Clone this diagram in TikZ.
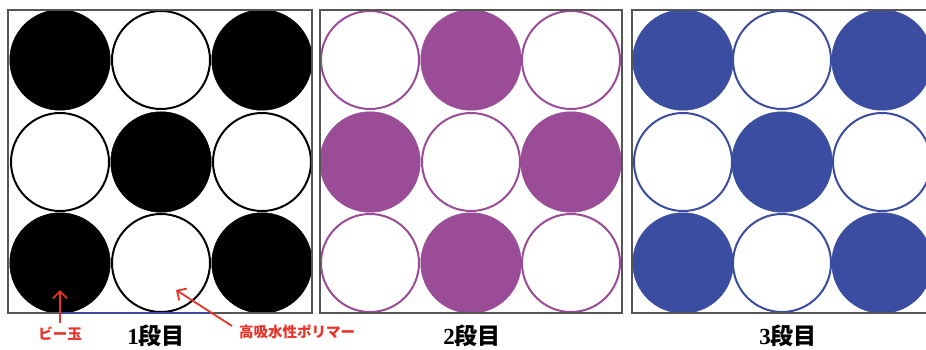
\documentclass[tikz,border=0pt]{standalone}
\usepackage{fontspec}
\usetikzlibrary{arrows.meta}
\newfontfamily\jp{Noto Sans CJK JP}
\definecolor{boxgray}{HTML}{555555}
\definecolor{mpurple}{HTML}{9A4C97}
\definecolor{mblue}{HTML}{3A4DA0}
\definecolor{mred}{HTML}{E8332A}
\tikzset{
  frame/.style={draw=boxgray, line width=2.2pt, inner sep=0pt},
  ball/.style={circle, fill=#1, draw=#1, line width=0.5pt, minimum size=100.5pt, inner sep=0pt},
  ring/.style={circle, fill=white, draw=#1, line width=2pt, minimum size=98pt, inner sep=0pt},
  layerlabel/.style={font=\fontsize{23}{23}\selectfont\bfseries\jp, inner sep=0pt},
  redlabel/.style={font=\fontsize{14.5}{14.5}\selectfont\bfseries\jp, text=mred, inner sep=0pt},
  redarrow/.style={draw=mred, line width=1.8pt, -{Straight Barb[length=7pt,width=14pt]}},
}
\begin{document}
\begin{tikzpicture}[x=1pt,y=-1pt]
\useasboundingbox (0,0) rectangle (926,350);
\fill[white] (0,0) rectangle (926,350);
% box 1
\foreach \i/\x in {0/60,1/161,2/262}{
  \foreach \j/\y in {0/60,1/162,2/263}{
    \pgfmathtruncatemacro\p{mod(\i+\j,2)}
    \ifnum\p=0
      \node[ball=black] (a\i\j) at (\x,\y) {};
    \else
      \node[ring=black] (a\i\j) at (\x,\y) {};
    \fi
  }
}
% box 2
\foreach \i/\x in {0/370,1/471,2/571}{
  \foreach \j/\y in {0/60,1/162,2/263}{
    \pgfmathtruncatemacro\p{mod(\i+\j,2)}
    \ifnum\p=1
      \node[ball=mpurple] (p\i\j) at (\x,\y) {};
    \else
      \node[ring=mpurple] (p\i\j) at (\x,\y) {};
    \fi
  }
}
% box 3
\foreach \i/\x in {0/683,1/782,2/882}{
  \foreach \j/\y in {0/60,1/162,2/263}{
    \pgfmathtruncatemacro\p{mod(\i+\j,2)}
    \ifnum\p=0
      \node[ball=mblue] (c\i\j) at (\x,\y) {};
    \else
      \node[ring=mblue] (c\i\j) at (\x,\y) {};
    \fi
  }
}
% frames (over the balls)
\node[frame, minimum width=304pt, minimum height=303pt] (b1) at (160,161.5) {};
\node[frame, minimum width=302pt, minimum height=303pt] (b2) at (471,161.5) {};
\node[frame, minimum width=304pt, minimum height=303pt] (b3) at (784,161.5) {};
% blue base line in box 1
\coordinate (bl1) at (62,313);
\coordinate (bl2) at (212,313);
\draw[mblue, line width=2.3pt] (bl1) -- (bl2);
% labels
\node[layerlabel] (l1) at (156,336) {\textbf{\fontspec{Liberation Serif}1}段目};
\node[layerlabel] (l2) at (472,336) {\textbf{\fontspec{Liberation Serif}2}段目};
\node[layerlabel] (l3) at (788,336) {\textbf{\fontspec{Liberation Serif}3}段目};
% red annotations
\node[redlabel] (t1) at (60,334) {ビー玉};
\node[redlabel] (t2) at (297,332) {高吸水性ポリマー};
\coordinate (s1) at (60,323);
\coordinate (h1) at (60,290);
\coordinate (s2) at (232,326);
\coordinate (h2) at (176,290);
\draw[redarrow] (s1) -- (h1);
\draw[redarrow] (s2) -- (h2);
\end{tikzpicture}
\end{document}
